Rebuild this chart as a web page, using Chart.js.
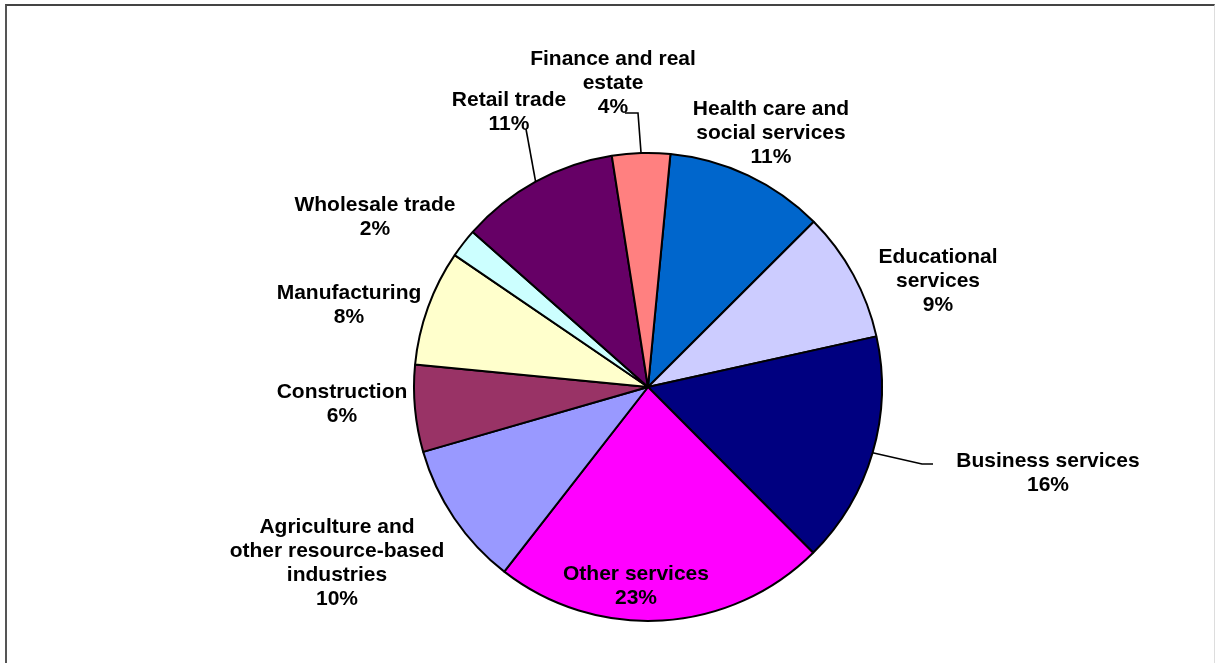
<!DOCTYPE html>
<html>
<head>
<meta charset="utf-8">
<script src="https://cdn.jsdelivr.net/npm/chart.js@4/dist/chart.umd.min.js"></script>
<style>
  html, body { margin: 0; padding: 0; background: #fff; }
  #wrap { position: relative; width: 1215px; height: 663px; overflow: hidden; }
  #frame {
    position: absolute; left: 5px; top: 4px; width: 1207px; height: 700px;
    border-top: 2px solid #444; border-left: 2px solid #555; border-right: 1px solid #ddd;
  }
  #canvas { position: absolute; left: 0; top: 0; }
</style>
</head>
<body>
<div id="wrap">
  <div id="frame"></div>
  <canvas id="canvas" width="1215" height="663"></canvas>
</div>
<script>
// Employment share by industry (%), clockwise from just right of 12 o'clock
const categories = [
  ["Health care and", "social services"],
  ["Educational", "services"],
  ["Business services"],
  ["Other services"],
  ["Agriculture and", "other resource-based", "industries"],
  ["Construction"],
  ["Manufacturing"],
  ["Wholesale trade"],
  ["Retail trade"],
  ["Finance and real", "estate"],
];
const shares = [11, 9, 16, 23, 10, 6, 8, 2, 11, 4];
const sliceColors = [
  "#0066CC", "#CCCCFF", "#000080", "#FF00FF", "#9999FF",
  "#993366", "#FFFFCC", "#CCFFFF", "#660066", "#FF8080",
];

// label placement, relative to the pie centre: [dx, first baseline dy]
const labelOffsets = [
  [123, -272], [290, -124], [400, 80], [-12, 193], [-311, 146],
  [-306, 11], [-299, -88], [-273, -176], [-139, -281], [-35, -322],
];
// leader lines for labels pulled away from their slice: start point and optional elbow
const leaders = {
  2: { start: [285, 77], elbow: [274, 77] },
  8: { start: [-122, -258] },
  9: { start: [-23, -274], elbow: [-10, -274] },
};

const LINE_H = 24;

const pieLabels = {
  id: "pieLabels",
  afterDraw(chart) {
    const ctx = chart.ctx;
    const meta = chart.getDatasetMeta(0);
    const total = shares.reduce((a, b) => a + b, 0);
    ctx.save();
    ctx.font = "bold 21px 'Liberation Sans', Arial, sans-serif";
    ctx.fillStyle = "#000";
    ctx.textAlign = "center";
    ctx.textBaseline = "alphabetic";
    meta.data.forEach((arc, i) => {
      const { x, y, startAngle, endAngle, outerRadius } = arc.getProps(
        ["x", "y", "startAngle", "endAngle", "outerRadius"], true);
      const lead = leaders[i];
      if (lead) {
        const mid = (startAngle + endAngle) / 2;
        ctx.beginPath();
        ctx.strokeStyle = "#000";
        ctx.lineWidth = 1.6;
        ctx.moveTo(x + lead.start[0], y + lead.start[1]);
        if (lead.elbow) ctx.lineTo(x + lead.elbow[0], y + lead.elbow[1]);
        ctx.lineTo(x + Math.cos(mid) * outerRadius, y + Math.sin(mid) * outerRadius);
        ctx.stroke();
      }
      const pct = Math.round((shares[i] / total) * 100) + "%";
      const lines = categories[i].concat(pct);
      const [dx, dy] = labelOffsets[i];
      lines.forEach((t, k) => ctx.fillText(t, x + dx, y + dy + k * LINE_H));
    });
    ctx.restore();
  },
};

const ctx = document.getElementById("canvas").getContext("2d");
new Chart(ctx, {
  type: "pie",
  data: {
    labels: categories.map((c) => c.join(" ")),
    datasets: [
      {
        data: shares,
        backgroundColor: sliceColors,
        borderColor: "#000",
        borderWidth: 2,
      },
    ],
  },
  options: {
    responsive: false,
    animation: false,
    rotation: 5.5,
    radius: 234,
    layout: { padding: { left: 81, right: 0, top: 111, bottom: 0 } },
    plugins: {
      legend: { display: false },
      tooltip: { enabled: false },
    },
  },
  plugins: [pieLabels],
});
</script>
</body>
</html>
